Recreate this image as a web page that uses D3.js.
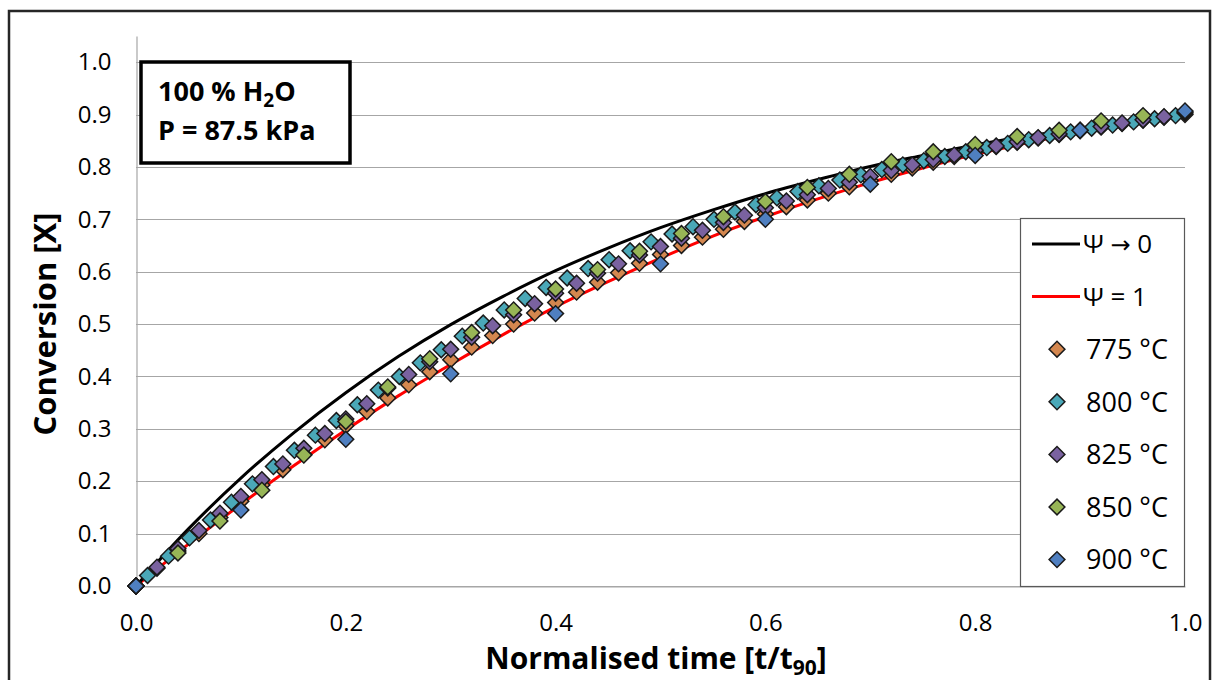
<!DOCTYPE html>
<html>
<head>
<meta charset="utf-8">
<script src="https://cdn.jsdelivr.net/npm/d3@7"></script>
<style>
  html, body { margin: 0; padding: 0; background: #fff; }
  svg { display: block; }
  text { font-family: "Open Sans", "Noto Sans", sans-serif; fill: #000; }
</style>
</head>
<body>
<svg id="chart" width="1215" height="680"></svg>
<script>
// ---------- DATA ----------
const yTicks = [0.0, 0.1, 0.2, 0.3, 0.4, 0.5, 0.6, 0.7, 0.8, 0.9, 1.0];
const xTicks = [0.0, 0.2, 0.4, 0.6, 0.8, 1.0];

// model curves
const tLine = [0, 0.05, 0.10, 0.15, 0.20, 0.25, 0.30, 0.35, 0.40, 0.45, 0.50,
               0.55, 0.60, 0.65, 0.70, 0.75, 0.80, 0.85, 0.90, 0.95, 1.00];
const psi0 = [0, 0.109, 0.206, 0.292, 0.369, 0.438, 0.499, 0.553, 0.602, 0.645, 0.684,
              0.718, 0.749, 0.776, 0.801, 0.822, 0.842, 0.859, 0.874, 0.888, 0.900];
const psi1 = [0, 0.080, 0.156, 0.229, 0.298, 0.363, 0.423, 0.480, 0.533, 0.581, 0.626,
              0.668, 0.705, 0.739, 0.770, 0.798, 0.824, 0.846, 0.866, 0.884, 0.900];

// measured series
const t02 = [0, 0.02, 0.04, 0.06, 0.08, 0.10, 0.12, 0.14, 0.16, 0.18, 0.20,
             0.22, 0.24, 0.26, 0.28, 0.30, 0.32, 0.34, 0.36, 0.38, 0.40,
             0.42, 0.44, 0.46, 0.48, 0.50, 0.52, 0.54, 0.56, 0.58, 0.60,
             0.62, 0.64, 0.66, 0.68, 0.70, 0.72, 0.74, 0.76, 0.78, 0.80,
             0.82, 0.84, 0.86, 0.88, 0.90, 0.92, 0.94, 0.96, 0.98, 1.00];
const t02b = [0, 0.011, 0.031, 0.051, 0.071, 0.091, 0.111, 0.131, 0.151, 0.171, 0.191,
              0.211, 0.231, 0.251, 0.271, 0.291, 0.311, 0.331, 0.351, 0.371, 0.391,
              0.411, 0.431, 0.451, 0.471, 0.491, 0.511, 0.531, 0.551, 0.571, 0.591,
              0.611, 0.631, 0.651, 0.671, 0.691, 0.711, 0.731, 0.751, 0.771, 0.791,
              0.811, 0.831, 0.851, 0.871, 0.891, 0.911, 0.931, 0.951, 0.971, 0.991];
const t04 = [0, 0.04, 0.08, 0.12, 0.16, 0.20, 0.24, 0.28, 0.32, 0.36, 0.40, 0.44, 0.48,
             0.52, 0.56, 0.60, 0.64, 0.68, 0.72, 0.76, 0.80, 0.84, 0.88, 0.92, 0.96, 1.00];
const t10 = [0, 0.1, 0.2, 0.3, 0.4, 0.5, 0.6, 0.7, 0.8, 0.9, 1.0];

const x775 = [0, 0.034, 0.067, 0.100, 0.131, 0.162, 0.193, 0.222, 0.251, 0.279, 0.306,
              0.333, 0.359, 0.384, 0.409, 0.432, 0.456, 0.478, 0.500, 0.521, 0.541,
              0.561, 0.580, 0.598, 0.616, 0.633, 0.650, 0.666, 0.681, 0.696, 0.710,
              0.724, 0.737, 0.750, 0.762, 0.774, 0.786, 0.798, 0.809, 0.820, 0.830,
              0.839, 0.847, 0.855, 0.862, 0.869, 0.876, 0.883, 0.889, 0.895, 0.900];
const x800 = [0, 0.020, 0.057, 0.092, 0.126, 0.160, 0.195, 0.228, 0.259, 0.288, 0.316,
              0.346, 0.374, 0.400, 0.426, 0.451, 0.477, 0.502, 0.527, 0.549, 0.570,
              0.588, 0.606, 0.623, 0.640, 0.657, 0.672, 0.686, 0.700, 0.714, 0.728,
              0.741, 0.753, 0.764, 0.775, 0.785, 0.795, 0.804, 0.812, 0.820, 0.829,
              0.837, 0.845, 0.852, 0.860, 0.867, 0.874, 0.880, 0.886, 0.892, 0.898];
const x825 = [0, 0.036, 0.071, 0.106, 0.139, 0.171, 0.203, 0.233, 0.263, 0.291, 0.319,
              0.348, 0.378, 0.404, 0.428, 0.452, 0.475, 0.497, 0.518, 0.539, 0.559,
              0.578, 0.597, 0.615, 0.632, 0.648, 0.664, 0.679, 0.694, 0.708, 0.722,
              0.735, 0.747, 0.759, 0.771, 0.782, 0.793, 0.804, 0.814, 0.823, 0.832,
              0.840, 0.848, 0.856, 0.863, 0.870, 0.877, 0.884, 0.890, 0.896, 0.903];
const x850 = [0, 0.063, 0.124, 0.183, 0.250, 0.314, 0.380, 0.434, 0.484, 0.527, 0.567, 0.604, 0.639,
              0.673, 0.705, 0.734, 0.761, 0.786, 0.810, 0.829, 0.843, 0.858, 0.870, 0.888, 0.898, 0.905];
const x900 = [0, 0.145, 0.280, 0.405, 0.520, 0.615, 0.700, 0.767, 0.822, 0.870, 0.907];

const seriesNames = ["775 \u00B0C", "800 \u00B0C", "825 \u00B0C", "850 \u00B0C", "900 \u00B0C"];
const seriesColors = ["#d4874f", "#4aa8b8", "#7a62a0", "#97b556", "#4f7fc0"];

// ---------- DRAW ----------
const svg = d3.select("#chart");
svg.append("rect").attr("width", 1215).attr("height", 680).attr("fill", "#fff");
// outer chart frame
svg.append("rect").attr("x", 9).attr("y", 11).attr("width", 1201).attr("height", 720)
  .attr("fill", "none").attr("stroke", "#262626").attr("stroke-width", 2.5);

const x = d3.scaleLinear().domain([0, 1]).range([136, 1185]);
const y = d3.scaleLinear().domain([0, 1.05]).range([586, 36]);

// gridlines
svg.append("g").selectAll("line").data(yTicks).join("line")
  .attr("x1", x(0)).attr("x2", x(1))
  .attr("y1", d => Math.round(y(d)) + 0.5).attr("y2", d => Math.round(y(d)) + 0.5)
  .attr("stroke", "#a6a6a6").attr("stroke-width", 1.2);

// y axis
const yAxis = svg.append("g").attr("transform", "translate(136.5,0)")
  .call(d3.axisLeft(y).tickValues(yTicks).tickSize(0).tickPadding(25).tickFormat(d3.format(".1f")));
yAxis.select(".domain").attr("stroke", "#a6a6a6").attr("stroke-width", 1.2);
yAxis.selectAll("text").style("font-size", "24px").style("font-family", "Open Sans").attr("fill", "#000");

// x axis
const xAxis = svg.append("g").attr("transform", "translate(0,586.5)")
  .call(d3.axisBottom(x).tickValues(xTicks).tickSize(0).tickFormat(d3.format(".1f")));
xAxis.select(".domain").attr("stroke", "#a6a6a6").attr("stroke-width", 1.2);
xAxis.selectAll("text").attr("y", 44).attr("dy", 0)
  .style("font-size", "24px").style("font-family", "Open Sans").attr("fill", "#000");

// model lines
const lineGen = d3.line().x(d => x(d[0])).y(d => y(d[1])).curve(d3.curveMonotoneX);
svg.append("path").datum(tLine.map((t, i) => [t, psi1[i]]))
  .attr("d", lineGen).attr("fill", "none").attr("stroke", "#ff0000").attr("stroke-width", 3);
svg.append("path").datum(tLine.map((t, i) => [t, psi0[i]]))
  .attr("d", lineGen).attr("fill", "none").attr("stroke", "#000").attr("stroke-width", 3);

// markers
const diamond = d3.symbol().type(d3.symbolSquare).size(125)();
const seriesT = [t02, t02b, t02, t04, t10];
const seriesV = [x775, x800, x825, x850, x900];
seriesV.forEach((vals, s) => {
  svg.append("g").selectAll("path").data(vals.map((v, i) => [seriesT[s][i], v])).join("path")
    .attr("d", diamond)
    .attr("transform", d => `translate(${x(d[0])},${y(d[1])}) rotate(45)`)
    .attr("fill", seriesColors[s]).attr("stroke", "#1a1a1a").attr("stroke-width", 1.5);
});

// text box
svg.append("rect").attr("x", 141).attr("y", 62).attr("width", 209).attr("height", 101)
  .attr("fill", "#fff").attr("stroke", "#000").attr("stroke-width", 3.5);
const tb1 = svg.append("text").attr("x", 158).attr("y", 101)
  .style("font-size", "27px").style("font-weight", "bold");
tb1.append("tspan").text("100 % H");
tb1.append("tspan").text("2").style("font-size", "19px").attr("dy", 6);
tb1.append("tspan").text("O").attr("dy", -6);
svg.append("text").attr("x", 158).attr("y", 140)
  .style("font-size", "27px").style("font-weight", "bold").text("P = 87.5 kPa");

// axis titles
svg.append("text").attr("transform", "translate(56,324) rotate(-90)")
  .attr("text-anchor", "middle").style("font-size", "31px").style("font-weight", "bold")
  .text("Conversion [X]");
const xt = svg.append("text").attr("x", 656).attr("y", 669)
  .attr("text-anchor", "middle").style("font-size", "30px").style("font-weight", "bold");
xt.append("tspan").text("Normalised time [t/t");
xt.append("tspan").text("90").style("font-size", "21px").attr("dy", 6);
xt.append("tspan").text("]").attr("dy", -6);

// legend
const lg = svg.append("g");
lg.append("rect").attr("x", 1020.5).attr("y", 218.5).attr("width", 164).attr("height", 368)
  .attr("fill", "#fff").attr("stroke", "#595959").attr("stroke-width", 1.2);
const legY = i => 244 + i * 52.6;
const lineColors = ["#000", "#ff0000"];
// entry 1: Ψ → 0
lg.append("line").attr("x1", 1032).attr("x2", 1080).attr("y1", legY(0)).attr("y2", legY(0))
  .attr("stroke", lineColors[0]).attr("stroke-width", 3);
const l1 = lg.append("text").attr("x", 1083).attr("y", legY(0)).attr("dy", "0.36em")
  .style("font-size", "26px");
l1.append("tspan").text("\u03A8 ");
l1.append("tspan").text("\u2192").style("font-family", "DejaVu Sans").style("font-size", "24px");
l1.append("tspan").text(" 0");
// entry 2: Ψ = 1
lg.append("line").attr("x1", 1032).attr("x2", 1080).attr("y1", legY(1)).attr("y2", legY(1))
  .attr("stroke", lineColors[1]).attr("stroke-width", 3);
lg.append("text").attr("x", 1083).attr("y", legY(1)).attr("dy", "0.36em")
  .style("font-size", "26px").text("\u03A8 = 1");
seriesNames.forEach((n, i) => {
  const yy = legY(i + 2);
  lg.append("path").attr("d", diamond)
    .attr("transform", `translate(1057,${yy}) rotate(45)`)
    .attr("fill", seriesColors[i]).attr("stroke", "#1a1a1a").attr("stroke-width", 1.5);
  lg.append("text").attr("x", 1086).attr("y", yy).attr("dy", "0.36em")
    .style("font-size", "27px").text(n);
});
</script>
</body>
</html>
